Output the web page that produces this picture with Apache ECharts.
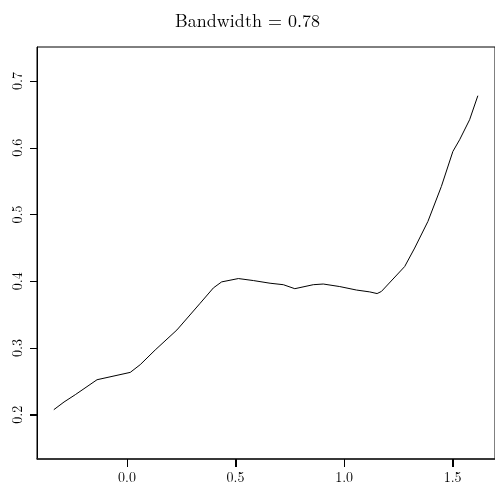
<!DOCTYPE html>
<html><head><meta charset="utf-8">
<script src="https://cdn.jsdelivr.net/npm/echarts@6/dist/echarts.min.js"></script>
<style>html,body{margin:0;padding:0;background:#fff}#c{width:495px;height:485px}</style>
</head><body><div id="c"></div>
<script>
const titleText = "Bandwidth = 0.78";
const xValues = [-0.337,-0.290,-0.238,-0.138,0.015,0.061,0.130,0.230,0.337,0.398,0.436,0.513,0.582,0.659,0.720,0.773,0.858,0.904,0.980,1.057,1.118,1.152,1.172,1.279,1.325,1.386,1.448,1.501,1.532,1.578,1.616];
const yValues = [0.2075,0.219,0.230,0.2524,0.2634,0.275,0.297,0.327,0.367,0.390,0.399,0.404,0.401,0.397,0.3948,0.3888,0.3948,0.3958,0.392,0.3868,0.384,0.3815,0.3847,0.422,0.4497,0.4896,0.542,0.5945,0.612,0.642,0.678];
const xTicks = [0.0,0.5,1.0,1.5];
const yTicks = [0.2,0.3,0.4,0.5,0.6,0.7];
const xMin = -0.4145, xMax = 1.695, yMin = 0.1336, yMax = 0.751;
const font = "'Latin Modern Roman','DejaVu Serif',serif";
const chart = echarts.init(document.getElementById('c'), null, {renderer:'canvas'});
chart.setOption({
  animation:false,
  title:{text:titleText,left:'center',top:7,textStyle:{fontFamily:font,fontSize:18,fontWeight:'normal',color:'#000'}},
  grid:{left:37,right:-1,top:47,bottom:26,show:true,borderColor:'#000',borderWidth:1,containLabel:false},
  xAxis:{type:'value',min:xMin,max:xMax,
    axisLine:{show:true,onZero:false,lineStyle:{color:'#222',width:1.5}},
    axisTick:{show:true,customValues:xTicks,length:8,lineStyle:{color:'#000',width:1}},
    axisLabel:{customValues:xTicks,margin:12,fontFamily:font,fontSize:14,color:'#000',formatter:v=>v.toFixed(1)},
    splitLine:{show:false}},
  yAxis:{type:'value',min:yMin,max:yMax,
    axisLine:{show:true,onZero:false,lineStyle:{color:'#000'}},
    axisTick:{show:true,customValues:yTicks,length:7,lineStyle:{color:'#000',width:1}},
    axisLabel:{customValues:yTicks,rotate:90,margin:12,fontFamily:font,fontSize:14,color:'#000',formatter:v=>v.toFixed(1)},
    splitLine:{show:false}},
  series:[
    {type:'line',data:xValues.map((x,i)=>[x,yValues[i]]),showSymbol:false,smooth:false,lineStyle:{color:'#000',width:1}}
  ]
});
try {
  const zr = chart.getZr();
  const addTick = (x1,y1,x2,y2)=>{
    zr.add(new echarts.graphic.Line({shape:{x1:x1,y1:y1,x2:x2,y2:y2},style:{stroke:'#000',lineWidth:1},z:100,silent:true}));
  };
  xTicks.forEach(v=>{
    const p = chart.convertToPixel({xAxisIndex:0,yAxisIndex:0},[v,yMin]);
    const x = Math.round(p[0])+0.5, y = Math.round(p[1]);
    addTick(x,y,x,y+8);
  });
  yTicks.forEach(v=>{
    const p = chart.convertToPixel({xAxisIndex:0,yAxisIndex:0},[xMin,v]);
    const x = Math.round(p[0]), y = Math.round(p[1])+0.5;
    addTick(x,y,x-7,y);
  });
} catch(e) { console.error(e); }
</script></body></html>
